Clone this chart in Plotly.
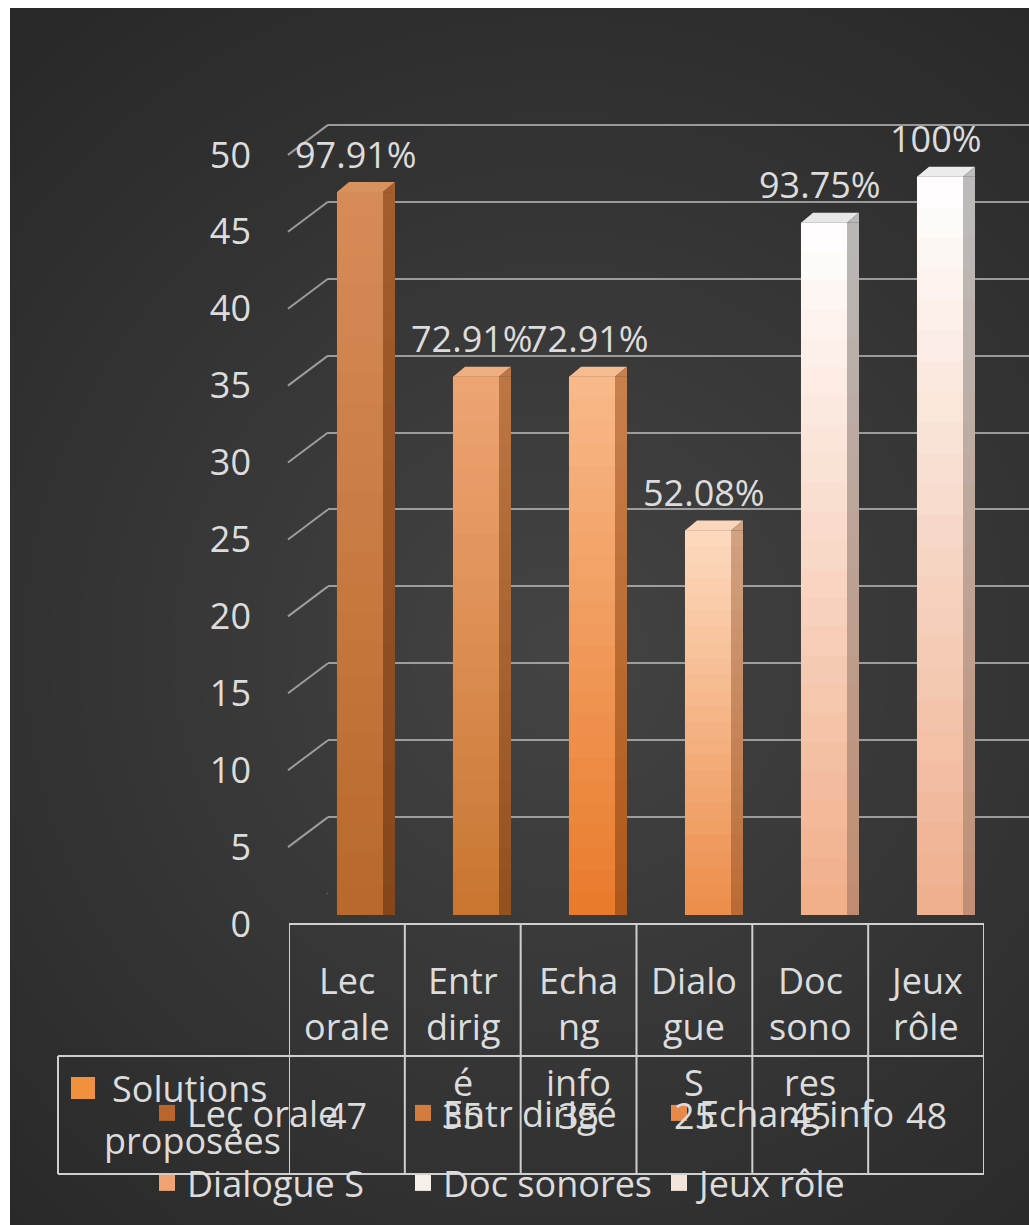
import plotly.graph_objects as go

# ---------------- data ----------------
categories = ["Lec orale", "Entr dirigé", "Echang info", "Dialogue S", "Doc sonores", "Jeux rôle"]
table_labels = [["Lec", "orale"], ["Entr", "dirig", "é"], ["Echa", "ng", "info"],
                ["Dialo", "gue", "S"], ["Doc", "sono", "res"], ["Jeux", "rôle"]]
legend_names = ["Leç orale", "Entr dirigé", "Echang info", "Dialogue S", "Doc sonores", "Jeux rôle"]
values = [47, 35, 35, 25, 45, 48]
pct_labels = ["97.91%", "72.91%", "72.91%", "52.08%", "93.75%", "100%"]
series_name = ["Solutions", "proposées"]
y_ticks = [0, 5, 10, 15, 20, 25, 30, 35, 40, 45, 50]

# ---------------- style ----------------
front_top = ["#d78c58", "#eea574", "#f8b98a", "#fddabf", "#ffffff", "#ffffff"]
front_bot = ["#b8682c", "#c97530", "#e97a2a", "#ec8d4a", "#f1ad88", "#efae8c"]
side_top = ["#a45e2e", "#bd7644", "#c8804c", "#d2a283", "#b8b8b8", "#bcbcbc"]
side_bot = ["#84461c", "#92501f", "#ad571b", "#b96a33", "#c08c70", "#c08e74"]
top_colors = ["#d8925f", "#efaf80", "#f6bc90", "#fad6bc", "#e7e7e7", "#ececec"]
legend_colors = ["#b9652c", "#d27c3e", "#e8894a", "#f0a272", "#f6eee9", "#f5e4da"]
FONT = "Open Sans"
TXT = "#dcdcdc"
FS = 36
W, H = 1029, 1225
NB = 24  # shading bands per bar


def px(x):
    return x / W


def py(y):
    return 1 - y / H


def hex2rgb(h):
    h = h.lstrip("#")
    return [int(h[i:i + 2], 16) for i in (0, 2, 4)]


def mix(c1, c2, t):
    a, b = hex2rgb(c1), hex2rgb(c2)
    return "rgb(%d,%d,%d)" % tuple(round(a[i] + (b[i] - a[i]) * t) for i in range(3))


fig = go.Figure()

# bars (front faces)
mid_colors = [mix(t, b, 0.5) for t, b in zip(front_top, front_bot)]
fig.add_trace(go.Bar(x=categories, y=values, marker=dict(color=mid_colors, line=dict(width=0)),
                     width=0.397, showlegend=False, hoverinfo="x+y", xaxis="x", yaxis="y"))

# dummy traces for back-wall axis and table axis
fig.add_trace(go.Scatter(x=[None], y=[None], xaxis="x2", yaxis="y2", showlegend=False, hoverinfo="skip"))
fig.add_trace(go.Scatter(x=categories, y=[None] * len(categories), xaxis="x3", yaxis="y",
                         showlegend=False, hoverinfo="skip", mode="markers"))

# legend proxies
for i, (nm, col) in enumerate(zip(legend_names, legend_colors)):
    fig.add_trace(go.Scatter(x=[None], y=[None], mode="markers", name=nm,
                             marker=dict(symbol="square", size=20, color=col),
                             legend="legend" if i < 3 else "legend2"))

shapes = []
# background panel with soft radial light
shapes.append(dict(type="rect", xref="paper", yref="paper", x0=0, x1=1, y0=0, y1=1,
                   fillcolor="#292929", line=dict(width=0), layer="below"))
cx, cy = 560, 650
for r in range(780, 0, -30):
    shapes.append(dict(type="circle", xref="paper", yref="paper",
                       x0=px(cx - r), x1=px(cx + r), y0=py(cy + r), y1=py(cy - r),
                       fillcolor="rgba(255,255,255,0.0088)", line=dict(width=0), layer="below"))
# white outer border strips
shapes.append(dict(type="rect", xref="paper", yref="paper", x0=0, x1=px(10), y0=0, y1=1,
                   fillcolor="white", line=dict(width=0), layer="below"))
shapes.append(dict(type="rect", xref="paper", yref="paper", x0=0, x1=1, y0=py(8), y1=1,
                   fillcolor="white", line=dict(width=0), layer="below"))

GRID = "rgba(190,190,190,0.75)"
# depth connectors for the grid lines
for v in y_ticks:
    shapes.append(dict(type="line", xref="paper", yref="y2", xsizemode="pixel", ysizemode="pixel",
                       xanchor=px(328), yanchor=v, x0=-40, x1=0, y0=-30, y1=0,
                       line=dict(color=GRID, width=2), layer="below"))

# 3D shading of bars
for i, (c, v) in enumerate(zip(categories, values)):
    for k in range(NB):
        t = 1 - (k + 0.5) / NB  # 0 at top, 1 at bottom
        y0 = v * k / NB
        y1 = min(v, v * (k + 1.6) / NB)
        shapes.append(dict(type="rect", xref="x", yref="y", xsizemode="pixel", xanchor=c,
                           x0=-23, x1=23, y0=y0, y1=y1,
                           fillcolor=mix(front_top[i], front_bot[i], t), line=dict(width=0), layer="above"))
        shapes.append(dict(type="rect", xref="x", yref="y", xsizemode="pixel", xanchor=c,
                           x0=23, x1=35, y0=y0, y1=y1,
                           fillcolor=mix(side_top[i], side_bot[i], t), line=dict(width=0), layer="above"))
    shapes.append(dict(type="path", xref="x", yref="y", xsizemode="pixel", ysizemode="pixel",
                       xanchor=c, yanchor=v, path="M-23,0 L23,0 L35,10 L-11,10 Z",
                       fillcolor=top_colors[i], line=dict(width=0), layer="above"))
    shapes.append(dict(type="path", xref="x", yref="y", xsizemode="pixel", ysizemode="pixel",
                       xanchor=c, yanchor=v, path="M23,0 L35,10 L35,0 Z",
                       fillcolor=side_top[i], line=dict(width=0), layer="above"))

# data table frame
TL = dict(color="#cfcfcf", width=2)
shapes.append(dict(type="line", xref="paper", yref="paper", x0=px(289), x1=px(984), y0=py(924), y1=py(924), line=TL))
shapes.append(dict(type="line", xref="paper", yref="paper", x0=px(58), x1=px(984), y0=py(1056), y1=py(1056), line=TL))
shapes.append(dict(type="line", xref="paper", yref="paper", x0=px(58), x1=px(984), y0=py(1174), y1=py(1174), line=TL))
shapes.append(dict(type="line", xref="paper", yref="paper", x0=px(58), x1=px(58), y0=py(1056), y1=py(1174), line=TL))
for k in range(len(categories) + 1):
    shapes.append(dict(type="line", xref="x3", yref="paper", x0=k - 0.5, x1=k - 0.5,
                       y0=py(924), y1=py(1174), line=TL))
# series key
shapes.append(dict(type="rect", xref="paper", yref="paper", x0=px(71), x1=px(95), y0=py(1099), y1=py(1077),
                   fillcolor="#f0913d", line=dict(width=0)))

annotations = []
# data labels
for c, v, t in zip(categories, values, pct_labels):
    annotations.append(dict(x=c, y=v, xref="x", yref="y", text=t, showarrow=False, yshift=38, xshift=-4,
                            font=dict(family=FONT, size=FS, color=TXT)))
# table category labels
row_y = [980, 1026, 1082]
for c, lines in zip(categories, table_labels):
    for j, ln in enumerate(lines):
        annotations.append(dict(x=c, y=py(row_y[j]), xref="x3", yref="paper", text=ln, showarrow=False,
                                yanchor="middle", font=dict(family=FONT, size=FS, color=TXT)))
# table values
for c, v in zip(categories, values):
    annotations.append(dict(x=c, y=py(1115), xref="x3", yref="paper", text=str(v), showarrow=False,
                            yanchor="middle", font=dict(family=FONT, size=FS, color=TXT)))
# series name
annotations.append(dict(x=px(110), y=py(1088), xref="paper", yref="paper", text=series_name[0],
                        xanchor="left", yanchor="middle", showarrow=False,
                        font=dict(family=FONT, size=FS, color=TXT)))
annotations.append(dict(x=px(192), y=py(1140), xref="paper", yref="paper", text=series_name[1],
                        xanchor="center", yanchor="middle", showarrow=False,
                        font=dict(family=FONT, size=FS, color=TXT)))

leg_common = dict(orientation="h", xanchor="left", yanchor="top", bgcolor="rgba(0,0,0,0)",
                  xref="container", yref="container",
                  font=dict(family=FONT, size=FS, color=TXT), entrywidth=211, entrywidthmode="pixels",
                  itemclick=False, itemdoubleclick=False, tracegroupgap=0)

fig.update_layout(
    width=W, height=H, autosize=False, margin=dict(l=0, r=0, t=0, b=0, pad=0, autoexpand=False),
    paper_bgcolor="white", plot_bgcolor="rgba(0,0,0,0)",
    barmode="overlay", showlegend=True,
    xaxis=dict(domain=[px(302), px(998)], type="category", categoryarray=categories, range=[-0.5, 5.5],
               showticklabels=False, showgrid=False, zeroline=False, showline=False, anchor="y",
               automargin=False),
    yaxis=dict(domain=[py(915), py(69)], range=[0, 55], tickvals=y_ticks, showgrid=False, zeroline=False,
               showline=False, ticks="", ticklabelshift=9, ticklabelstandoff=50, automargin=False,
               tickfont=dict(family=FONT, size=FS, color=TXT), anchor="x"),
    xaxis2=dict(domain=[px(328), 1], range=[0, 1], visible=False, anchor="y2", automargin=False),
    yaxis2=dict(domain=[py(894), py(48)], range=[0, 55], tickvals=y_ticks, showgrid=True, gridcolor=GRID,
                gridwidth=2, showticklabels=False, zeroline=False, showline=False, ticks="", anchor="x2",
                automargin=False),
    xaxis3=dict(domain=[px(289), px(984)], type="category", categoryarray=categories, range=[-0.5, 5.5],
                visible=False, anchor="y", automargin=False),
    legend=dict(x=px(147), y=py(1083), **leg_common),
    legend2=dict(x=px(147), y=py(1153), **leg_common),
    shapes=shapes, annotations=annotations,
)

fig.write_html("out.html")
